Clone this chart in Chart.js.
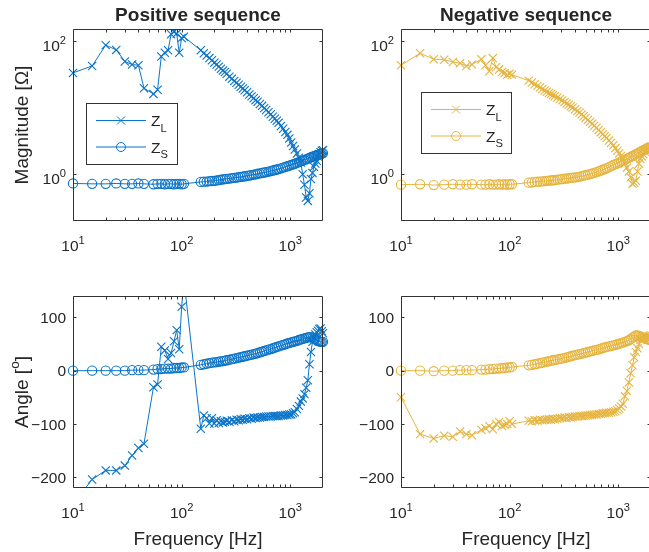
<!DOCTYPE html>
<html><head><meta charset="utf-8">
<script src="https://cdn.jsdelivr.net/npm/chart.js@4.4.1/dist/chart.umd.min.js"></script>
<style>
html,body{margin:0;padding:0;overflow:hidden;background:#fff;}
#wrap{position:relative;width:649px;height:552px;overflow:hidden;background:#fff;}
canvas{position:absolute;left:0;top:0;}
</style></head><body>
<div id="wrap">
<canvas id="c1" width="660" height="552"></canvas>
<canvas id="c2" width="660" height="552"></canvas>
<canvas id="c3" width="660" height="552"></canvas>
<canvas id="c4" width="660" height="552"></canvas>
</div>
<script>
// ---------------- data ----------------
const freqHz = [10,15,20,25,30,35,40,45,55,60,65,70,75,80,85,90,95,100,105,
  150,160,170,180,190,200,210,220,230,240,250,260,
  275,290,305,320,335,350,365,380,
  400,420,440,460,480,500,
  525,550,575,600,
  630,660,690,720,750,780,
  820,860,900,940,980,1020,1060,1100,
  1150,1200,1250,1300,1350,1400,1450,1500,1550,1600,1650,1700,1750,1800,1850,1900,1950,2000];

const posZLMag = [33,42,86,73,49,44,43,19.5,16,18.5,58,66,72,125,135,128,66,110,115,
  72,65,60,55,51,47,44,41,38,36,34,32,
  29,27,25,23.5,22,20.5,19.3,18.2,
  16.9,15.7,14.7,13.8,12.9,12.2,
  11.3,10.6,9.8,9.2,
  8.5,7.9,7.3,6.8,6.35,5.9,
  5.3,4.8,4.3,3.9,3.45,3.0,2.65,2.35,
  2.05,1.77,1.5,1.0,0.7,0.45,0.4,0.52,0.85,1.05,1.3,1.45,1.6,1.85,2.0,2.15,2.25,2.3];

const posZSMag = [0.73,0.72,0.72,0.73,0.72,0.72,0.73,0.72,0.71,0.72,0.72,0.71,0.72,0.72,0.71,0.72,0.72,0.71,0.72,
  0.77,0.775,0.78,0.79,0.795,0.80,0.81,0.82,0.83,0.84,0.85,0.855,
  0.865,0.875,0.885,0.895,0.905,0.915,0.925,0.935,
  0.95,0.96,0.975,0.99,1.0,1.02,
  1.035,1.05,1.065,1.08,
  1.1,1.12,1.14,1.16,1.18,1.2,
  1.23,1.26,1.29,1.32,1.35,1.38,1.41,1.44,
  1.48,1.52,1.56,1.6,1.64,1.68,1.72,1.76,1.8,1.84,1.87,1.9,1.93,1.96,1.99,2.02,2.05,2.08];

const posZLAng = [-250,-204,-187,-187,-178,-159,-145,-137,-31,-26,45,38,22,33,55,76,40,120,170,
  -109,-84,-89,-99,-89,-99,-93,-98,-95,-97,-96,-94,
  -96,-93,-95,-92,-93,-91,-92,-90,
  -91,-89,-90,-88,-89,-88,
  -88,-87,-87,-86,
  -86,-86,-85,-85,-85,-85,
  -84,-84,-83,-83,-82,-82,-80,-78,
  -72,-66,-58,-52,-44,-32,-18,12,35,54,62,68,72,75,78,79,74,70];

const posZSAng = [0,0,0,0,0,1,1,1,2,3,3,4,4,4,5,5,5,6,6,
  11,12,13,14,15,15.5,16,17,17.5,18,19,19.5,
  20.5,21.5,22.5,23.5,24.5,25.5,26.5,27,
  28,29,30,31,32,33,
  34.5,35.5,37,38,
  39.5,40.5,42,43,44.5,45.5,
  47,48.5,49.5,51,52,53,54,55,
  56,57.5,58.5,59.5,60.5,61.5,62.5,63,63,62,60,59,57,56,55,54,54,54];

const negZLMag = [43,65,53,52,48,46,42,44,53,43,35,55,40,37,34,33,31,32,31,
  25.3,23.7,22.3,21.1,19.9,18.9,18.0,17.2,16.5,15.9,15.3,14.8,
  14.1,13.4,12.8,12.15,11.5,11.0,10.45,10.0,
  9.4,8.9,8.45,7.9,7.4,7.0,
  6.5,6.1,5.7,5.35,
  4.98,4.6,4.28,4.0,3.73,3.5,
  3.2,2.97,2.72,2.47,2.25,2.05,1.88,1.71,
  1.47,1.26,1.1,0.9,0.72,0.75,0.8,1.1,1.45,1.7,1.85,2.0,2.2,2.3,2.4,2.5,2.55,2.6];

const negZSMag = [0.70,0.71,0.69,0.70,0.71,0.70,0.70,0.71,0.70,0.70,0.71,0.70,0.70,0.71,0.70,0.71,0.70,0.71,0.71,
  0.75,0.76,0.77,0.775,0.78,0.785,0.79,0.8,0.805,0.81,0.815,0.82,
  0.83,0.84,0.85,0.86,0.865,0.875,0.885,0.89,
  0.9,0.91,0.925,0.94,0.955,0.97,
  0.99,1.01,1.03,1.05,
  1.08,1.11,1.14,1.17,1.2,1.24,
  1.28,1.33,1.38,1.42,1.46,1.5,1.55,1.6,
  1.65,1.7,1.76,1.82,1.88,1.94,2.0,2.06,2.12,2.18,2.24,2.3,2.35,2.4,2.44,2.48,2.52,2.56];

const negZLAng = [-50,-119,-127,-122,-124,-114,-119,-121,-111,-108,-104,-110,-100,-96,-104,-102,-100,-95,-100,
  -94,-95,-93,-94,-92,-93,-92,-92,-91,-92,-90,-91,
  -90,-89,-89,-88,-89,-87,-88,-87,
  -86,-86,-85,-85,-85,-84,
  -84,-83,-83,-82,
  -82,-81,-81,-80,-80,-79,
  -79,-78,-77,-76,-74,-71,-67,-62,
  -48,-38,-22,-5,10,25,35,42,50,58,64,66,65,64,63,62,62,61];

const negZSAng = [0,0,-1,0,0,1,1,1,2,2,3,3,4,4,5,5,6,6,7,
  10,11,12,13,14,15,16,17,18,19,19.5,20,
  21,22,23,24,25,26,27,28,
  29,30,31,32,33,34,
  35,36,37,38,
  39,40,41.5,42.5,43.5,44.5,
  45.5,46.5,47.5,48.5,49.5,50.5,51.5,52.5,
  54,55.5,57,59,62,64,66,66,65,64,63,62,61,60,59,58,58,57];

const seriesNames = ['Z_L', 'Z_S'];
const xTickValues = [10, 100, 1000];
const xTickLabels = ['10^1', '10^2', '10^3'];
const xMinorValues = [20,30,40,50,60,70,80,90,200,300,400,500,600,700,800,900];
const magTickValues = [1, 100];
const magTickLabels = ['10^0', '10^2'];
const angTickValues = [-200, -100, 0, 100];
const angTickLabels = ['\u2212200', '\u2212100', '0', '100'];
const titles = ['Positive sequence', 'Negative sequence'];
const yLabels = ['Magnitude [\u03A9]', 'Angle [^o]'];
const xLabel = 'Frequency [Hz]';

// ---------------- drawing helpers ----------------
const FONT = '"Liberation Sans", Arial, Helvetica, sans-serif';
const AXC = '#333333';
const TXC = '#262626';
const BLUE = '#0B74C8';
const GOLD = '#E6B540';
const W = 660, H = 552;
const TICK_FS = 15.5, LABEL_FS = 19, TITLE_FS = 19;

function parseRich(str){
  const segs=[]; let buf=''; let i=0;
  while(i<str.length){
    const c=str[i];
    if((c==='^'||c==='_') && i+1<str.length){
      if(buf){segs.push({t:buf,k:0}); buf='';}
      segs.push({t:str[i+1], k:c==='^'?1:-1}); i+=2;
    } else { buf+=c; i++; }
  }
  if(buf) segs.push({t:buf,k:0});
  return segs;
}
function fontFor(k,size,bold){ return (bold?'bold ':'') + (k? size*0.72 : size) + 'px ' + FONT; }
function richWidth(ctx, segs, size, bold){
  let w=0; for(const s of segs){ ctx.font=fontFor(s.k,size,bold); w+=ctx.measureText(s.t).width; } return w;
}
function drawRich(ctx, str, x, y, align, size, bold){
  const segs=parseRich(str);
  const w=richWidth(ctx,segs,size,bold);
  let cx = align==='center' ? x-w/2 : (align==='right' ? x-w : x);
  ctx.textAlign='left'; ctx.textBaseline='alphabetic';
  for(const s of segs){
    ctx.font=fontFor(s.k,size,bold);
    const dy = s.k===1 ? -size*0.46 : (s.k===-1 ? size*0.36 : 0);
    ctx.fillText(s.t, cx, y+dy);
    cx+=ctx.measureText(s.t).width;
  }
}

function makeDecor(p){
  return {
    id:'decor',
    afterDraw(chart){
      const ctx=chart.ctx, a=chart.chartArea, xs=chart.scales.x, ys=chart.scales.y;
      ctx.save();
      ctx.strokeStyle=AXC; ctx.fillStyle=TXC; ctx.lineWidth=1;
      const L=Math.round(a.left)+0.5, R=Math.round(a.right)-0.5, T=Math.round(a.top)+0.5, B=Math.round(a.bottom)-0.5;
      ctx.beginPath();
      ctx.rect(L, T, R-L, B-T);
      const tl=3;
      for(const v of xTickValues.concat(xMinorValues)){
        const px=Math.round(xs.getPixelForValue(v))+0.5;
        ctx.moveTo(px,B); ctx.lineTo(px,B-tl);
        ctx.moveTo(px,T); ctx.lineTo(px,T+tl);
      }
      for(const v of p.yTicks){
        const py=Math.round(ys.getPixelForValue(v))+0.5;
        ctx.moveTo(L,py); ctx.lineTo(L+tl,py);
        ctx.moveTo(R,py); ctx.lineTo(R-tl,py);
      }
      ctx.stroke();
      xTickValues.forEach((v,i)=>{
        drawRich(ctx, xTickLabels[i], xs.getPixelForValue(v), a.bottom+30, 'center', TICK_FS, false);
      });
      p.yTicks.forEach((v,i)=>{
        const lab=p.yLabs[i];
        const off = lab.indexOf('^')>=0 ? 10 : 5.5;
        drawRich(ctx, lab, a.left-7, ys.getPixelForValue(v)+off, 'right', TICK_FS, false);
      });
      if(p.title){ drawRich(ctx, p.title, (a.left+a.right)/2, 21, 'center', TITLE_FS, true); }
      if(p.xlabel){ drawRich(ctx, p.xlabel, (a.left+a.right)/2, a.bottom+57, 'center', LABEL_FS, false); }
      if(p.ylabel){
        ctx.save();
        ctx.translate(28,(a.top+a.bottom)/2);
        ctx.rotate(-Math.PI/2);
        drawRich(ctx, p.ylabel, 0, 0, 'center', LABEL_FS, false);
        ctx.restore();
      }
      if(p.legend){
        const g=p.legend;
        ctx.fillStyle='#ffffff';
        ctx.fillRect(g.x,g.y,g.w,g.h);
        ctx.strokeStyle=AXC; ctx.lineWidth=1;
        ctx.strokeRect(g.x+0.5,g.y+0.5,g.w,g.h);
        const rows=[g.y+17.5, g.y+44];
        rows.forEach((ry,i)=>{
          ctx.strokeStyle=p.color; ctx.lineWidth=1;
          ctx.beginPath(); ctx.moveTo(g.x+10,ry); ctx.lineTo(g.x+60,ry); ctx.stroke();
          const mx=g.x+35;
          ctx.beginPath();
          if(i===0){ ctx.moveTo(mx-4,ry-4); ctx.lineTo(mx+4,ry+4); ctx.moveTo(mx+4,ry-4); ctx.lineTo(mx-4,ry+4); }
          else { ctx.arc(mx,ry,4.5,0,Math.PI*2); }
          ctx.stroke();
          ctx.fillStyle=TXC;
          drawRich(ctx, seriesNames[i], g.x+65, ry+5.5, 'left', TICK_FS, false);
        });
      }
      ctx.restore();
    }
  };
}

function build(id, p){
  const mk=(vals)=>freqHz.map((f,i)=>({x:f,y:vals[i]}));
  const clip={left:8,right:8,top:0,bottom:0};
  new Chart(document.getElementById(id), {
    type:'line',
    data:{datasets:[
      {label:seriesNames[0], data:mk(p.zl), borderColor:p.color, backgroundColor:'rgba(0,0,0,0)', borderWidth:1,
       pointStyle:'crossRot', pointRadius:5.8, pointBorderWidth:1.1, pointBorderColor:p.color, pointBackgroundColor:'rgba(0,0,0,0)',
       order:1, clip:clip, tension:0, fill:false},
      {label:seriesNames[1], data:mk(p.zs), borderColor:p.color, backgroundColor:'rgba(0,0,0,0)', borderWidth:1,
       pointStyle:'circle', pointRadius:4.6, pointBorderWidth:1.1, pointBorderColor:p.color, pointBackgroundColor:'rgba(0,0,0,0)',
       order:0, clip:clip, tension:0, fill:false}
    ]},
    options:{
      responsive:false, animation:false, events:[],
      layout:{autoPadding:false, padding:{left:p.area[0], top:p.area[1], right:W-p.area[2], bottom:H-p.area[3]}},
      scales:{
        x:{type:'logarithmic', min:10, max:2000, display:false},
        y:{type:p.yType, min:p.yMin, max:p.yMax, display:false}
      },
      plugins:{legend:{display:false}, tooltip:{enabled:false}}
    },
    plugins:[makeDecor(p)]
  });
}

build('c1',{area:[73,29,323,221], yType:'logarithmic', yMin:0.2, yMax:150, yTicks:magTickValues, yLabs:magTickLabels,
  color:BLUE, zl:posZLMag, zs:posZSMag, title:titles[0], ylabel:yLabels[0], legend:{x:86,y:103,w:91,h:61}});
build('c2',{area:[401,29,651,221], yType:'logarithmic', yMin:0.2, yMax:150, yTicks:magTickValues, yLabs:magTickLabels,
  color:GOLD, zl:negZLMag, zs:negZSMag, title:titles[1], legend:{x:421,y:92,w:90,h:61}});
build('c3',{area:[73,296,323,488], yType:'linear', yMin:-220, yMax:140, yTicks:angTickValues, yLabs:angTickLabels,
  color:BLUE, zl:posZLAng, zs:posZSAng, ylabel:yLabels[1], xlabel:xLabel});
build('c4',{area:[401,296,651,488], yType:'linear', yMin:-220, yMax:140, yTicks:angTickValues, yLabs:angTickLabels,
  color:GOLD, zl:negZLAng, zs:negZSAng, xlabel:xLabel});
</script>
</body></html>
